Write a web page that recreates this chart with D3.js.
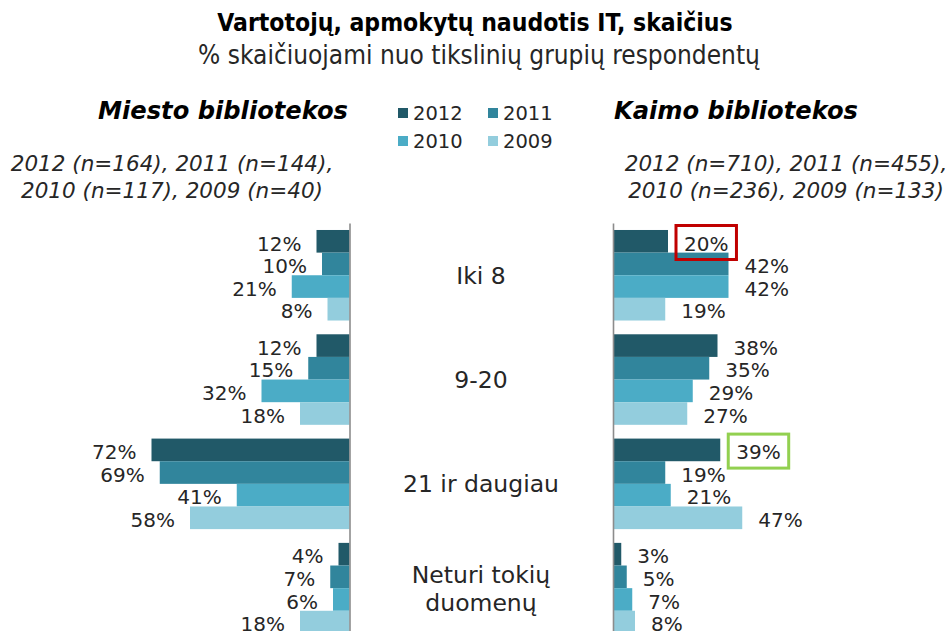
<!DOCTYPE html>
<html>
<head>
<meta charset="utf-8">
<script src="https://cdn.jsdelivr.net/npm/d3@7"></script>
<style>
  body { margin: 0; background: #fff; }
  svg { display: block; }
  text { font-family: "DejaVu Sans", Verdana, sans-serif; fill: #262626; }
</style>
</head>
<body>
<svg id="chart" width="947" height="631"></svg>
<script>
// Categories (number of trained users) and survey years
const categories = ["Iki 8", "9-20", "21 ir daugiau", "Neturi tokių duomenų"];
const categoryLines = [["Iki 8"], ["9-20"], ["21 ir daugiau"], ["Neturi tokių", "duomenų"]];
const years = ["2012", "2011", "2010", "2009"];

// City libraries, % per category for each year
const miesto2012 = [12, 12, 72, 4];
const miesto2011 = [10, 15, 69, 7];
const miesto2010 = [21, 32, 41, 6];
const miesto2009 = [8, 18, 58, 18];

// Rural libraries, % per category for each year
const kaimo2012 = [20, 38, 39, 3];
const kaimo2011 = [42, 35, 19, 5];
const kaimo2010 = [42, 29, 21, 7];
const kaimo2009 = [19, 27, 47, 8];

const miestoSampleLines = ["2012 (n=164), 2011 (n=144),", "2010 (n=117), 2009 (n=40)"];
const kaimoSampleLines = ["2012 (n=710), 2011 (n=455),", "2010 (n=236), 2009 (n=133)"];

// Highlighted labels: [panel, category index, year index]
const highlightRed = ["kaimo", 0, 0];
const highlightGreen = ["kaimo", 2, 0];

const yearColors = ["#215968", "#31859C", "#4BACC6", "#93CDDD"];

const svg = d3.select("#chart");

const panels = [
  { key: "miesto", series: [miesto2012, miesto2011, miesto2010, miesto2009], dir: -1, axisX: 349.5 },
  { key: "kaimo",  series: [kaimo2012, kaimo2011, kaimo2010, kaimo2009],     dir: 1,  axisX: 613 }
];

// Shared scales
const xLen = d3.scaleLinear().domain([0, 100]).range([0, 275]);
const y = d3.scaleBand().domain(categories).range([223.1, 640.3]).paddingInner(0.132).paddingOuter(0.066);
const yInner = d3.scaleBand().domain(years).range([0, y.bandwidth()]);

// Title
svg.append("text").attr("x", 475).attr("y", 31).attr("text-anchor", "middle")
  .style("font-weight", "bold").style("font-size", "24.5px").style("font-stretch", "condensed")
  .style("fill", "#000")
  .text("Vartotojų, apmokytų naudotis IT, skaičius");
svg.append("text").attr("x", 479).attr("y", 64).attr("text-anchor", "middle")
  .style("font-size", "26px").style("font-stretch", "condensed")
  .text("% skaičiuojami nuo tikslinių grupių respondentų");

// Panel headings
svg.append("text").attr("x", 348).attr("y", 119).attr("text-anchor", "end")
  .style("font-weight", "bold").style("font-style", "italic").style("font-size", "24.2px").style("fill", "#000")
  .text("Miesto bibliotekos");
svg.append("text").attr("x", 614).attr("y", 119).attr("text-anchor", "start")
  .style("font-weight", "bold").style("font-style", "italic").style("font-size", "24.2px").style("fill", "#000")
  .text("Kaimo bibliotekos");

// Sample sizes
[[miestoSampleLines, 172], [kaimoSampleLines, 786]].forEach(([lines, cx]) => {
  svg.append("g").selectAll("text").data(lines).join("text")
    .attr("x", cx).attr("y", (d, i) => 171 + i * 27)
    .attr("text-anchor", "middle")
    .style("font-style", "italic").style("font-size", "21.5px")
    .text(d => d);
});

// Legend
const legend = svg.append("g");
years.forEach((yr, i) => {
  const col = i % 2, row = Math.floor(i / 2);
  const g = legend.append("g").attr("transform", `translate(${398 + col * 90},${113 + row * 28})`);
  g.append("rect").attr("x", 0).attr("y", -5).attr("width", 10).attr("height", 10).attr("fill", yearColors[i]);
  g.append("text").attr("x", 15).attr("y", 0).attr("dy", "0.36em").style("font-size", "19.5px").text(yr);
});

// Bars, value labels and axes per panel
panels.forEach(p => {
  const g = svg.append("g");
  p.series.forEach((vals, yi) => {
    const s = g.append("g");
    s.selectAll("rect").data(vals).join("rect")
      .attr("x", v => p.dir < 0 ? p.axisX - xLen(v) : p.axisX)
      .attr("y", (v, ci) => y(categories[ci]) + yInner(years[yi]))
      .attr("width", v => xLen(v))
      .attr("height", yInner.bandwidth())
      .attr("fill", yearColors[yi]);
    s.selectAll("text").data(vals).join("text")
      .attr("class", (v, ci) => `lbl-${p.key}-${ci}-${yi}`)
      .attr("x", v => p.dir < 0 ? p.axisX - xLen(v) - 15 : p.axisX + xLen(v) + 16)
      .attr("y", (v, ci) => y(categories[ci]) + yInner(years[yi]) + yInner.bandwidth() / 2 + 2)
      .attr("dy", "0.36em")
      .attr("text-anchor", p.dir < 0 ? "end" : "start")
      .style("font-size", "20px")
      .text(v => v + "%");
  });
  const axis = (p.dir < 0 ? d3.axisRight(y) : d3.axisLeft(y)).tickSize(0).tickSizeOuter(0).tickFormat("");
  const ag = svg.append("g").attr("transform", `translate(${p.axisX},0)`).call(axis);
  ag.select(".domain").attr("stroke", "#8c8c8c").attr("stroke-width", 1.6);
});

// Category labels between the panels
const catG = svg.append("g");
categoryLines.forEach((lines, ci) => {
  const cy = y(categories[ci]) + y.bandwidth() / 2;
  const t = catG.append("text").attr("x", 481).attr("text-anchor", "middle")
    .style("font-size", "23.5px");
  lines.forEach((ln, li) => {
    t.append("tspan").attr("x", 481)
      .attr("y", cy + (li - (lines.length - 1) / 2) * 28)
      .attr("dy", "0.36em").text(ln);
  });
});

// Boxes around highlighted labels
[[highlightRed, "#C00000"], [highlightGreen, "#92D050"]].forEach(([h, color]) => {
  const node = svg.select(`.lbl-${h[0]}-${h[1]}-${h[2]}`).node();
  const b = node.getBBox();
  svg.append("rect")
    .attr("x", b.x - 8).attr("y", b.y - 6)
    .attr("width", b.width + 16).attr("height", b.height + 10)
    .attr("fill", "none").attr("stroke", color).attr("stroke-width", 3);
});
</script>
</body>
</html>
